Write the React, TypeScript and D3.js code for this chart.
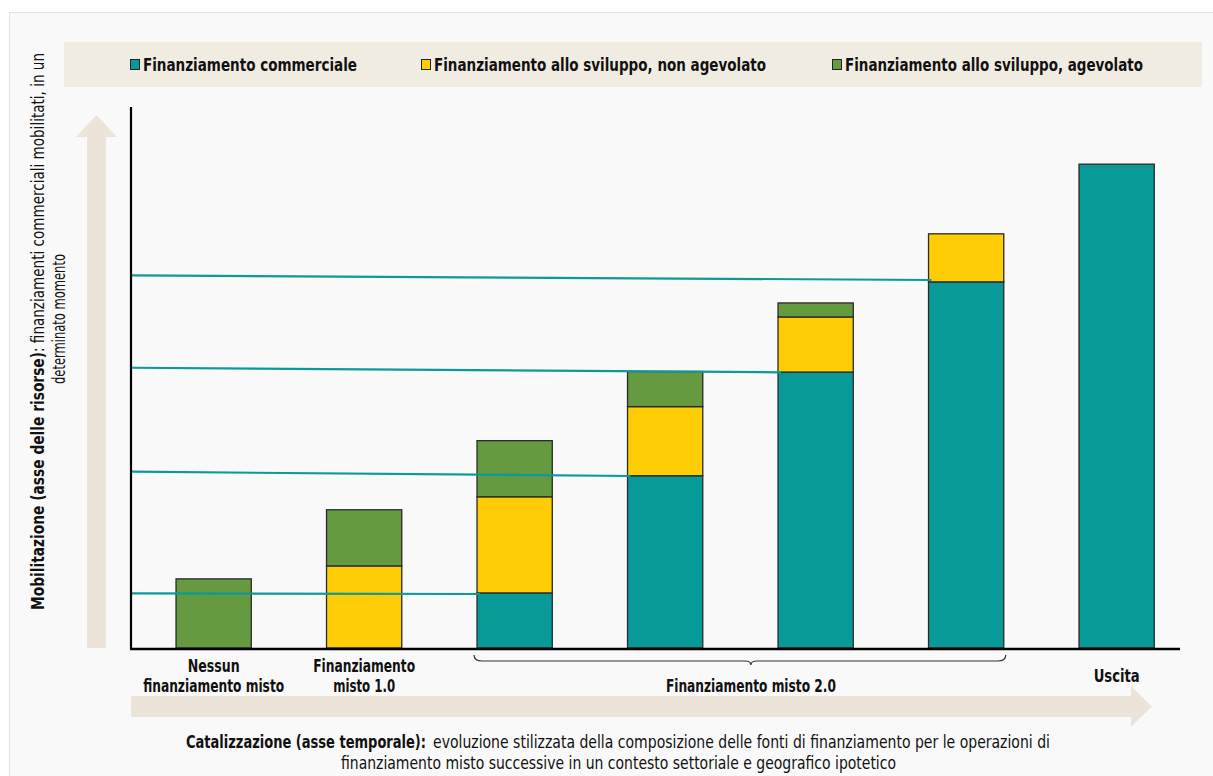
import React from 'react';
import * as d3 from 'd3';

// stages along the time axis
const stages = ['s1', 's2', 's3', 's4', 's5', 's6', 's7'];
const stageLabels = [
  ['Nessun', 'finanziamento misto'],
  ['Finanziamento', 'misto 1.0'],
  [], [], [], [],
  ['Uscita'],
];
// widths of the label lines in the reference (the narrow font is missing)
const stageLabelWidths = [[52, 141], [102, 62], [], [], [], [], [46]];

// stacked components (arbitrary units)
const commerciale = [0, 0, 10.2, 31.9, 51.1, 67.8, 89.6];
const nonAgevolato = [0, 15.2, 17.8, 12.8, 10.2, 8.9, 0];
const agevolato = [12.8, 10.4, 10.4, 6.5, 2.6, 0, 0];

const seriesKeys = ['commerciale', 'nonAgevolato', 'agevolato'];
const seriesNames = [
  'Finanziamento commerciale',
  'Finanziamento allo sviluppo, non agevolato',
  'Finanziamento allo sviluppo, agevolato',
];
const seriesColors = ['#089a99', '#ffcd05', '#669a41'];
const legendX = [130, 421, 832];
const legendWidths = [214, 332, 298];

// teal guide lines: from the y axis to the commercial top of bars 3..6
const guideBars = [2, 3, 4, 5];
const guideStart = [10.1, 32.65, 51.9, 69.0];
const guideEnd = [10.0, 31.85, 51.05, 68.15];

const FONT = "'Liberation Sans Narrow', 'Arial Narrow', 'DejaVu Sans Condensed', sans-serif";
const FS = 17;

const W = 1213;
const H = 776;
const x0 = 131; // y axis position
const baseY = 648;

export default function App() {
  const x = d3.scaleBand().domain(stages).range([138.4, 1191.9]).paddingInner(0.5).paddingOuter(0.25);
  const y = d3.scaleLinear().domain([0, 100]).range([baseY, 108]);

  const table = stages.map((s, i) => ({
    stage: s,
    commerciale: commerciale[i],
    nonAgevolato: nonAgevolato[i],
    agevolato: agevolato[i],
  }));
  const stacked = d3.stack<any>().keys(seriesKeys)(table);

  const bw = x.bandwidth();
  const braceL = x(stages[2])! - 3;
  const braceR = x(stages[5])! + bw + 2;
  const braceMid = (braceL + braceR) / 2 + 11;
  const braceY = 661;
  const brace = d3.path();
  brace.moveTo(braceL, braceY - 6);
  brace.quadraticCurveTo(braceL, braceY, braceL + 8, braceY);
  brace.lineTo(braceMid - 6, braceY);
  brace.quadraticCurveTo(braceMid, braceY, braceMid, braceY + 4);
  brace.quadraticCurveTo(braceMid, braceY, braceMid + 6, braceY);
  brace.lineTo(braceR - 8, braceY);
  brace.quadraticCurveTo(braceR, braceY, braceR, braceY - 6);

  // caption pieces squeezed horizontally to the reference widths
  const capBoldK = 0.87;
  const capRegK = 0.91;

  return (
    <svg width={W} height={H} style={{ position: 'absolute', left: 0, top: 0 }} fontFamily={FONT}>
      <rect x={0} y={0} width={W} height={H} fill="#ffffff" />
      <rect x={9.5} y={12.5} width={W} height={H} fill="#f9f9f9" stroke="#e2e2e2" />

      {/* legend band */}
      <rect x={64} y={42} width={1138} height={45} fill="#f1ece2" />
      {seriesNames.map((n, i) => (
        <g key={n} transform={`translate(${legendX[i]},0)`}>
          <rect x={0.5} y={59.5} width={9} height={10} fill={seriesColors[i]} stroke="#222" strokeWidth={1} />
          <text x={13} y={71} fontSize={FS} fontWeight="bold" fill="#111" textLength={legendWidths[i]} lengthAdjust="spacingAndGlyphs">{n}</text>
        </g>
      ))}

      {/* vertical beige arrow */}
      <path d={`M87,${baseY} L87,137 L76,137 L96.5,115 L117,137 L106,137 L106,${baseY} Z`} fill="#ece4d8" />

      {/* y axis label */}
      <text transform="translate(44,610) rotate(-90)" fontSize={FS} fill="#111">
        <tspan x={0} fontWeight="bold" textLength={258} lengthAdjust="spacingAndGlyphs">Mobilitazione (asse delle risorse)</tspan>
        <tspan x={258} textLength={299} lengthAdjust="spacingAndGlyphs">: finanziamenti commerciali mobilitati, in un</tspan>
      </text>
      <text transform="translate(65,319) rotate(-90)" textAnchor="middle" fontSize={FS} fill="#111" textLength={130} lengthAdjust="spacingAndGlyphs">
        determinato momento
      </text>

      {/* bars */}
      {stacked.map((layer, li) => (
        <g key={layer.key}>
          {layer.map((d, i) =>
            d[1] - d[0] > 0 ? (
              <rect
                key={i}
                x={x(stages[i])}
                y={y(d[1])}
                width={bw}
                height={y(d[0]) - y(d[1])}
                fill={seriesColors[li]}
                stroke="#2a2a2a"
                strokeWidth={1.3}
              />
            ) : null
          )}
        </g>
      ))}

      {/* guide lines */}
      {guideBars.map((b, i) => (
        <line
          key={b}
          x1={x0 + 1}
          y1={y(guideStart[i])}
          x2={x(stages[b])! + 3}
          y2={y(guideEnd[i])}
          stroke="#0a9a9a"
          strokeWidth={2.2}
        />
      ))}

      {/* axes */}
      <line x1={x0} y1={107} x2={x0} y2={baseY + 1} stroke="#000" strokeWidth={2.2} />
      <line x1={x0 - 1} y1={baseY + 1} x2={1180} y2={baseY + 1} stroke="#000" strokeWidth={2.5} />

      {/* category labels */}
      {stageLabels.map((lines, i) =>
        lines.map((l, j) => (
          <text
            key={`${i}-${j}`}
            x={x(stages[i])! + bw / 2}
            y={(lines.length === 1 ? 682 : 672) + j * 20}
            textAnchor="middle"
            fontSize={FS}
            fontWeight="bold"
            fill="#111"
            textLength={stageLabelWidths[i][j]}
            lengthAdjust="spacingAndGlyphs"
          >
            {l}
          </text>
        ))
      )}
      <path d={brace.toString()} fill="none" stroke="#333" strokeWidth={1.2} />
      <text x={braceMid} y={692} textAnchor="middle" fontSize={FS} fontWeight="bold" fill="#111" textLength={170} lengthAdjust="spacingAndGlyphs">
        Finanziamento misto 2.0
      </text>

      {/* horizontal beige arrow */}
      <path d={`M${x0},696 L1131,696 L1131,686 L1152,706.5 L1131,727 L1131,717 L${x0},717 Z`} fill="#ece4d8" />

      {/* caption */}
      <g transform={`translate(186,748) scale(${capBoldK},1)`}>
        <text x={0} y={0} fontSize={FS} fontWeight="bold" fill="#111" textLength={240 / capBoldK} lengthAdjust="spacingAndGlyphs">
          Catalizzazione (asse temporale):
        </text>
      </g>
      <g transform={`translate(433,748) scale(${capRegK},1)`}>
        <text x={0} y={0} fontSize={FS} fill="#111" textLength={617 / capRegK} lengthAdjust="spacingAndGlyphs">
          evoluzione stilizzata della composizione delle fonti di finanziamento per le operazioni di
        </text>
      </g>
      <text x={618.5} y={769} textAnchor="middle" fontSize={FS} fill="#111" textLength={555} lengthAdjust="spacingAndGlyphs">
        finanziamento misto successive in un contesto settoriale e geografico ipotetico
      </text>
    </svg>
  );
}
